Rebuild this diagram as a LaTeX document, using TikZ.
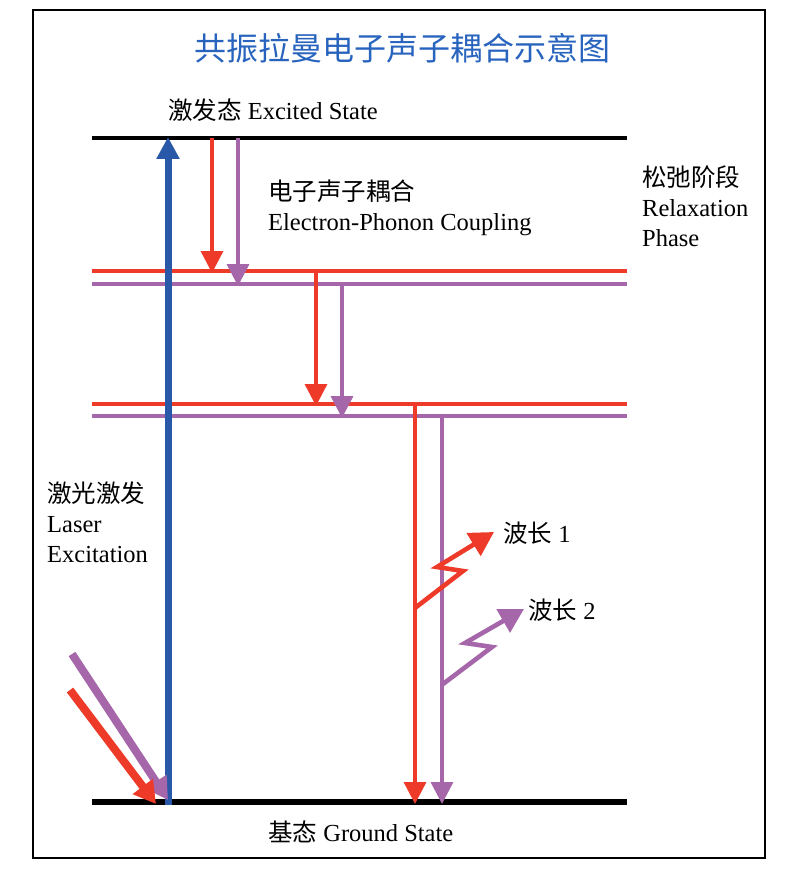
\documentclass[tikz,border=0pt]{standalone}
\usepackage{fontspec}
\setmainfont{Liberation Serif}
\newfontfamily\cjk{Noto Sans CJK SC}
\usetikzlibrary{arrows.meta}
\definecolor{ramanred}{RGB}{238,58,40}
\definecolor{ramanpurple}{RGB}{166,102,170}
\definecolor{ramanblue}{RGB}{42,88,168}
\definecolor{titleblue}{RGB}{40,100,190}

\begin{document}
\begin{tikzpicture}[x=1pt,y=-1pt]
        \tikzstyle{level}=[line width=4.8pt]
        \tikzstyle{sublevel}=[line width=3.2pt]
        \tikzstyle{drop}=[line width=3.4pt,-{Triangle[length=22pt,width=22pt]}]
        \tikzstyle{laser}=[line width=8pt,-{Triangle[length=22pt,width=24pt]}]
        \tikzstyle{wave}=[line width=4.6pt,line join=miter,-{Triangle[length=24pt,width=26pt]}]
        \tikzstyle{label}=[inner sep=0pt,anchor=west,font=\fontsize{24.5}{30}\selectfont,align=left]
       \useasboundingbox (0,0) rectangle (800,869);
       \draw[line width=1.4pt] (33,10) rectangle (765,858);
       \begin{scope}
         % energy levels
         \coordinate (exL) at (92,138);  \coordinate (exR) at (627,138);
         \coordinate (r1L) at (92,271);  \coordinate (r1R) at (627,271);
         \coordinate (p1L) at (92,284);  \coordinate (p1R) at (627,284);
         \coordinate (r2L) at (92,404);  \coordinate (r2R) at (627,404);
         \coordinate (p2L) at (92,416);  \coordinate (p2R) at (627,416);
         \coordinate (gsL) at (92,802);  \coordinate (gsR) at (627,802);

         \draw[level] (exL) -- (exR);
         \draw[sublevel,ramanred] (r1L) -- (r1R);
         \draw[sublevel,ramanpurple] (p1L) -- (p1R);
         \draw[sublevel,ramanred] (r2L) -- (r2R);
         \draw[sublevel,ramanpurple] (p2L) -- (p2R);
         \draw[level,line width=5.5pt] (gsL) -- (gsR);

         % excitation
         \coordinate (blueS) at (168,805);  \coordinate (blueE) at (168,137);
         \draw[ramanblue,line width=7pt,-{Triangle[length=22pt,width=22pt]}] (blueS) -- (blueE);
         \coordinate (lpS) at (72,654);  \coordinate (lpE) at (168,800);
         \coordinate (lrS) at (70,690);  \coordinate (lrE) at (156,804);
         \draw[laser,ramanpurple] (lpS) -- (lpE);
         \draw[laser,ramanred] (lrS) -- (lrE);

         % relaxation steps
         \coordinate (a1S) at (212,138);  \coordinate (a1E) at (212,273);
         \coordinate (b1S) at (238,138);  \coordinate (b1E) at (238,286);
         \coordinate (a2S) at (316,271);  \coordinate (a2E) at (316,406);
         \coordinate (b2S) at (342,284);  \coordinate (b2E) at (342,418);
         \coordinate (a3S) at (415,404);  \coordinate (a3E) at (415,804);
         \coordinate (b3S) at (442,416);  \coordinate (b3E) at (442,804);
         \draw[drop,ramanred] (a1S) -- (a1E);
         \draw[drop,ramanpurple] (b1S) -- (b1E);
         \draw[drop,ramanred] (a2S) -- (a2E);
         \draw[drop,ramanpurple] (b2S) -- (b2E);
         \draw[drop,ramanred] (a3S) -- (a3E);
         \draw[drop,ramanpurple] (b3S) -- (b3E);

         % emitted light
         \coordinate (w1a) at (415,608);  \coordinate (w1b) at (463,571);
         \coordinate (w1c) at (437,567);  \coordinate (w1d) at (494,532);
         \coordinate (w2a) at (443,684);  \coordinate (w2b) at (492,647);
         \coordinate (w2c) at (465,643);  \coordinate (w2d) at (524,609);
         \draw[wave,ramanred] (w1a) -- (w1b) -- (w1c) -- (w1d);
         \draw[wave,ramanpurple] (w2a) -- (w2b) -- (w2c) -- (w2d);

         % texts
         \node [inner sep=0pt,font=\fontsize{32}{38}\selectfont\cjk,text=titleblue] (title) at (402,48) {共振拉曼电子声子耦合示意图};
         \node [label] (excited) at (168,110) {{\cjk 激发态} Excited State};
         \node [label] (coupling) at (268,208) {{\cjk 电子声子耦合}\\Electron-Phonon Coupling};
         \node [label] (relax) at (642,206) {{\cjk 松弛阶段}\\Relaxation\\Phase};
         \node [label] (laserexc) at (47,522) {{\cjk 激光激发}\\Laser\\Excitation};
         \node [label] (wl1) at (503,533) {{\cjk 波长} 1};
         \node [label] (wl2) at (528,610) {{\cjk 波长} 2};
         \node [label] (ground) at (268,832) {{\cjk 基态} Ground State};
        \end{scope}
      \end{tikzpicture}
\end{document}
